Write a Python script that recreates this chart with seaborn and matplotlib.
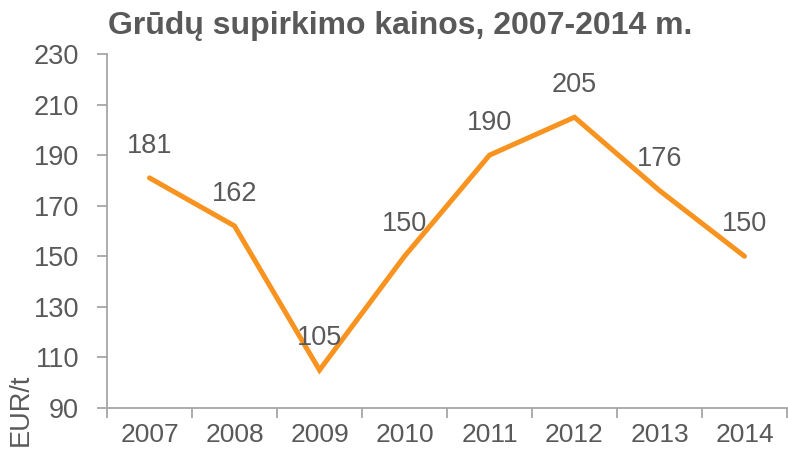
import numpy as np
import pandas as pd
import seaborn as sns
import matplotlib.pyplot as plt
from matplotlib.ticker import FixedLocator

years = ['2007', '2008', '2009', '2010', '2011', '2012', '2013', '2014']
prices = [181, 162, 105, 150, 190, 205, 176, 150]

df = pd.DataFrame({'year': years, 'price': prices})

sns.set_style('white')
plt.rcParams['font.family'] = ['Liberation Sans', 'DejaVu Sans']

grey = '#595959'
spine = '#a6a6a6'
orange = '#F7931E'

fig = plt.figure(figsize=(7.88, 4.51), dpi=100)
ax = fig.add_axes([107 / 788, 43 / 451, 680 / 788, 354 / 451])

sns.lineplot(data=df, x='year', y='price', color=orange, linewidth=3.6,
             sort=False, ax=ax, solid_capstyle='round', solid_joinstyle='miter')

for i, v in enumerate(prices):
    ax.annotate(str(v), (i, v), xytext=(0, 23), textcoords='offset points',
                ha='center', va='center', fontsize=19.5, color=grey)

ax.set_xlim(-0.5, len(years) - 0.5)
ax.set_ylim(90, 230)
ax.set_yticks(range(90, 231, 20))
ax.set_xticks(range(len(years)))
ax.set_xticklabels(years)
ax.xaxis.set_minor_locator(FixedLocator(np.arange(-0.5, len(years), 1)))
ax.tick_params(axis='x', which='major', length=0, pad=11, labelsize=19, labelcolor=grey)
ax.tick_params(axis='x', which='minor', length=7, width=1.3, color=spine, bottom=True)
ax.tick_params(axis='y', length=7, width=1.3, color=spine, pad=13, labelsize=19.5,
               labelcolor=grey, left=True)

for s in ['top', 'right']:
    ax.spines[s].set_visible(False)
for s in ['left', 'bottom']:
    ax.spines[s].set_color(spine)
    ax.spines[s].set_linewidth(1.3)

ax.set_xlabel('')
ax.set_ylabel('')
fig.text(21 / 788, 5 / 451, 'EUR/t', rotation=90, ha='center', va='bottom',
         fontsize=19.5, color=grey)
fig.text(400 / 788, 1 - 26 / 451, 'Grūdų supirkimo kainos, 2007-2014 m.',
         ha='center', va='center', fontsize=23, fontweight='bold', color=grey)

fig.savefig('out.png', dpi=100)
